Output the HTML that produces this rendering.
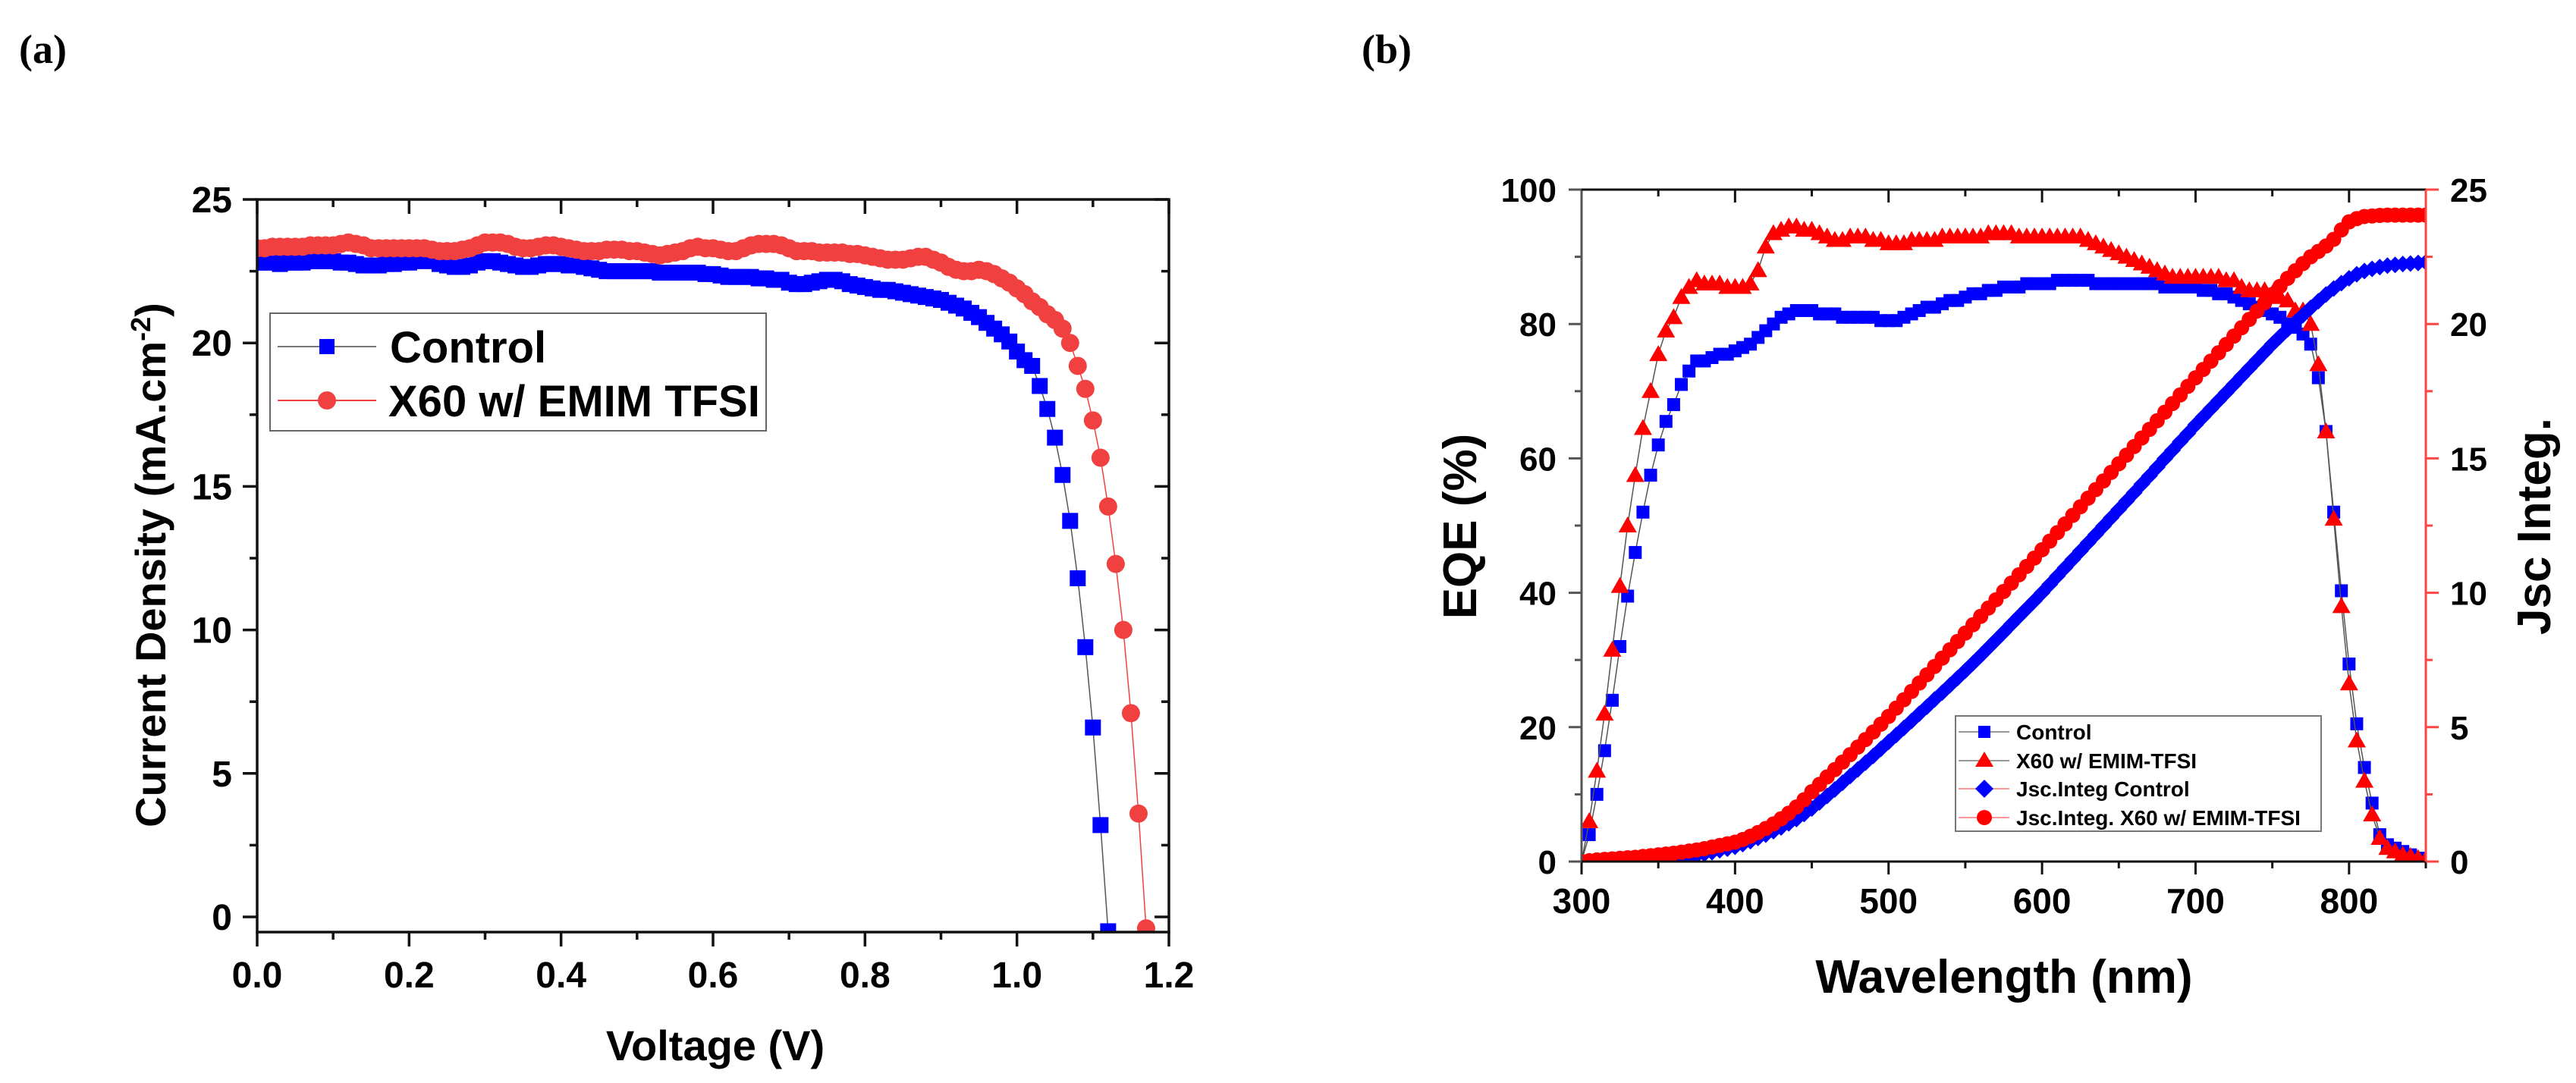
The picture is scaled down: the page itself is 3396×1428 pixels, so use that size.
<!DOCTYPE html>
<html><head><meta charset="utf-8"><style>
html,body{margin:0;padding:0;background:#fff;}
svg{display:block;font-family:"Liberation Sans",Arial,sans-serif;}
</style></head><body>
<svg id="root" width="3396" height="1428" viewBox="0 0 3396 1428" xmlns="http://www.w3.org/2000/svg">
<defs>
<clipPath id="clipA"><rect x="339" y="263" width="1202" height="966"/></clipPath>
<clipPath id="clipB"><rect x="2085" y="250" width="1113" height="886"/></clipPath>
</defs>
<text x="25" y="83" font-family="Liberation Serif, serif" font-weight="bold" font-size="54">(a)</text>
<text x="1795" y="83" font-family="Liberation Serif, serif" font-weight="bold" font-size="54">(b)</text>
<g id="gA"></g>
<g id="gB"></g>
</svg>
<script>
// ---- Panel (a) data ----
const voltStep = 0.01;
const controlJ = [22.8,22.8,22.8,22.75,22.8,22.8,22.8,22.85,22.85,22.85,
22.85,22.8,22.8,22.75,22.7,22.7,22.7,22.75,22.75,22.8,
22.8,22.85,22.9,22.85,22.75,22.7,22.65,22.65,22.7,22.8,
22.85,22.85,22.8,22.75,22.7,22.65,22.65,22.7,22.75,22.75,
22.75,22.7,22.7,22.65,22.6,22.55,22.5,22.5,22.5,22.5,
22.5,22.5,22.5,22.45,22.45,22.45,22.45,22.45,22.45,22.4,
22.4,22.35,22.3,22.3,22.3,22.3,22.25,22.25,22.2,22.2,
22.1,22.05,22.05,22.1,22.15,22.2,22.2,22.15,22.05,22.0,
21.95,21.9,21.85,21.85,21.8,21.75,21.7,21.65,21.6,21.55,
21.5,21.4,21.3,21.2,21.05,20.9,20.7,20.5,20.3,20.05,
19.7,19.4,19.2,18.5,17.7,16.7,15.4,13.8,11.8,9.4,6.6,3.2,-0.5];
const x60J = [23.3,23.3,23.35,23.35,23.35,23.35,23.35,23.4,23.4,23.4,
23.4,23.45,23.5,23.45,23.4,23.3,23.3,23.3,23.3,23.3,
23.3,23.3,23.3,23.25,23.2,23.2,23.2,23.25,23.3,23.4,
23.5,23.5,23.5,23.45,23.35,23.3,23.3,23.35,23.4,23.4,
23.35,23.3,23.25,23.2,23.2,23.2,23.25,23.25,23.25,23.2,
23.2,23.15,23.1,23.05,23.1,23.15,23.2,23.3,23.35,23.3,
23.3,23.25,23.2,23.2,23.3,23.4,23.45,23.45,23.45,23.4,
23.3,23.2,23.2,23.2,23.15,23.15,23.15,23.15,23.1,23.1,
23.05,23.0,22.95,22.9,22.9,22.9,22.95,23.0,23.0,22.9,
22.8,22.65,22.55,22.5,22.5,22.55,22.5,22.4,22.25,22.1,
21.9,21.7,21.45,21.25,21.0,20.8,20.5,20.0,19.2,18.4,
17.3,16.0,14.3,12.3,10.0,7.1,3.6,-0.4];
const aXTicks = [0.0,0.2,0.4,0.6,0.8,1.0,1.2];
const aXTickLabels = ["0.0","0.2","0.4","0.6","0.8","1.0","1.2"];
const aYTicks = [0,5,10,15,20,25];

// ---- Panel (b) data ----
const wlStart = 300, wlStep = 5;
const eqeControl = [0,4,10,16.5,24,32,39.5,46,52,57.5,
62,65.5,68,71,73,74.5,74.5,75,75.5,75.5,
76,76.5,77,78,79,80,81,81.5,82,82,
82,81.5,81.5,81.5,81,81,81,81,81,80.5,
80.5,80.5,81,81.5,82,82.5,82.5,83,83.5,83.5,
84,84.5,84.5,85,85,85.5,85.5,85.5,86,86,
86,86,86.5,86.5,86.5,86.5,86.5,86,86,86,
86,86,86,86,86,86,85.5,85.5,85.5,85.5,
85.5,85,85,84.5,84.5,84,83.5,83,82.5,82,
81.5,81,80,79.5,78.5,77,72,64,52,40.3,
29.4,20.5,14,8.7,4,2.5,2,1.5,1,0.5,0.2];
const eqeX60 = [0,6,13.5,22,31.5,41,50,57.5,64.5,70,
75.5,79,81,84,85.5,86.5,86,86,86,85.5,
85.5,85.5,86,88,91.5,93.5,94,94.5,94.5,94,
94,93.5,93,92.5,92.5,93,93,93,92.5,92.5,
92,92,92,92.5,92.5,92.5,92.5,93,93,93,
93,93,93,93.5,93.5,93.5,93.5,93,93,93,
93,93,93,93,93,93,92.5,92,91.5,91,
90.5,90,89.5,89,88.5,88,87.5,87,87,87,
87,87,87,87,86.5,86.5,85.5,85,85,85,
84.5,84,83.5,82,82,80,74,64,51,38,
26.5,18,12,7,3.5,2,1.5,1,0.8,0.5,0.3];
const jscControl = [0,0.01,0.02,0.03,0.04,0.05,0.06,0.07,0.08,0.09,
0.1,0.11,0.12,0.14,0.18,0.23,0.29,0.35,0.42,0.48,
0.55,0.65,0.76,0.88,1.0,1.13,1.27,1.42,1.58,1.77,
1.97,2.2,2.44,2.68,2.93,3.18,3.43,3.68,3.93,4.19,
4.45,4.71,4.97,5.23,5.5,5.76,6.03,6.29,6.56,6.83,
7.1,7.38,7.66,7.95,8.24,8.53,8.83,9.12,9.41,9.7,
10.0,10.31,10.62,10.93,11.24,11.55,11.86,12.17,12.48,12.79,
13.1,13.41,13.72,14.04,14.35,14.67,14.99,15.3,15.62,15.93,
16.25,16.55,16.85,17.15,17.45,17.75,18.05,18.35,18.65,18.95,
19.25,19.53,19.8,20.07,20.33,20.6,20.85,21.1,21.32,21.52,
21.7,21.85,21.97,22.05,22.12,22.17,22.2,22.23,22.25,22.27,22.3];
const jscX60 = [0,0.03,0.06,0.08,0.1,0.12,0.14,0.16,0.19,0.22,
0.25,0.28,0.31,0.35,0.39,0.43,0.48,0.54,0.6,0.66,
0.72,0.82,0.94,1.08,1.23,1.4,1.59,1.8,2.03,2.3,
2.6,2.87,3.15,3.42,3.7,3.98,4.26,4.54,4.82,5.11,
5.4,5.71,6.02,6.33,6.64,6.95,7.26,7.57,7.88,8.19,
8.5,8.81,9.12,9.43,9.74,10.05,10.36,10.67,10.98,11.29,
11.6,11.92,12.24,12.56,12.88,13.2,13.52,13.84,14.16,14.48,
14.8,15.12,15.44,15.76,16.08,16.4,16.72,17.04,17.36,17.68,
18.0,18.31,18.62,18.93,19.24,19.55,19.86,20.17,20.48,20.79,
21.1,21.4,21.7,21.98,22.25,22.5,22.7,22.9,23.15,23.5,
23.8,23.92,24.0,24.02,24.04,24.05,24.05,24.05,24.05,24.05,24.05];
const bXTicks = [300,400,500,600,700,800];
const bYTicks = [0,20,40,60,80,100];
const bY2Ticks = [0,5,10,15,20,25];

const NS = "http://www.w3.org/2000/svg";
function mk(parent, tag, attrs, text){
  const e = document.createElementNS(NS, tag);
  for (const k in attrs) e.setAttribute(k, attrs[k]);
  if (text !== undefined) e.textContent = text;
  parent.appendChild(e);
  return e;
}

// ================= Panel A =================
const gA = document.getElementById('gA');
const aL=339, aR=1541, aT=263, aB=1229, aY0=1209, aY25=263;
const ax = v => aL + (v/1.2)*(aR-aL);
const ay = j => aY0 - j*(aY0-aY25)/25;
(function(){
  // ticks
  for (let i=0;i<=12;i++){
    const v=i*0.1, x=ax(v), major=(i%2===0);
    let t=mk(gA,'line',{x1:x,y1:aB,x2:x,y2:aB+(major?19:10),stroke:'#111','stroke-width':3.5});
    
    
    t=mk(gA,'line',{x1:x,y1:aT,x2:x,y2:aT+(major?19:10),stroke:'#111','stroke-width':3.5});
    
    
  }
  aXTicks.forEach((v,i)=>{
    const t=mk(gA,'text',{x:ax(v),y:1302,'text-anchor':'middle','font-size':48,'font-weight':'bold'},aXTickLabels[i]);
    
    
  });
  for (let k=0;k<=10;k++){
    const v=k*2.5, y=ay(v), major=(k%2===0);
    let t=mk(gA,'line',{x1:aL,y1:y,x2:aL-(major?19:10),y2:y,stroke:'#111','stroke-width':3.5});
    
    
    t=mk(gA,'line',{x1:aR,y1:y,x2:aR-(major?19:10),y2:y,stroke:'#111','stroke-width':3.5});
    
    
  }
  aYTicks.forEach(v=>{
    const t=mk(gA,'text',{x:306,y:ay(v)+17,'text-anchor':'end','font-size':48,'font-weight':'bold'},String(v));
    
    
  });
  // series
  const clip = mk(gA,'g',{'clip-path':'url(#clipA)'});
  
  
  const cPts = controlJ.map((j,i)=>[ax(i*voltStep),ay(j)]);
  const rPts = x60J.map((j,i)=>[ax(i*voltStep),ay(j)]);
  let l=mk(clip,'polyline',{points:cPts.map(p=>p.join(',')).join(' '),fill:'none',stroke:'#555','stroke-width':1.5});
  
  
  cPts.forEach(p=>{
    const r=mk(clip,'rect',{x:p[0]-10.5,y:p[1]-10.5,width:21,height:21,fill:'#0000ff'});
    
    
  });
  l=mk(clip,'polyline',{points:rPts.map(p=>p.join(',')).join(' '),fill:'none',stroke:'#f04040','stroke-width':1.5});
  
  
  rPts.forEach(p=>{
    const c=mk(clip,'circle',{cx:p[0],cy:p[1],r:12,fill:'#f04040'});
    
    
  });
  const fr=mk(gA,'rect',{x:aL,y:aT,width:aR-aL,height:aB-aT,fill:'none',stroke:'#111','stroke-width':3.5});
  
  
  // legend
  const lg=mk(gA,'g',{});
  
  
  mk(lg,'rect',{x:356,y:413,width:654,height:155,fill:'#fff',stroke:'#666','stroke-width':2});
  mk(lg,'line',{x1:366,y1:457,x2:496,y2:457,stroke:'#777','stroke-width':2});
  mk(lg,'rect',{x:421,y:447,width:20,height:20,fill:'#0000ff'});
  let t=mk(lg,'text',{x:514,y:478,'font-size':58,'font-weight':'bold'},'Control');
  
  
  mk(lg,'line',{x1:366,y1:528,x2:496,y2:528,stroke:'#f04040','stroke-width':2});
  mk(lg,'circle',{cx:431,cy:528,r:12,fill:'#f04040'});
  t=mk(lg,'text',{x:512,y:549,'font-size':58,'font-weight':'bold'},'X60 w/ EMIM TFSI');
  
  
  // titles
  t=mk(gA,'text',{x:943,y:1398,'text-anchor':'middle','font-size':56,'font-weight':'bold'},'Voltage (V)');
  
  
  t=mk(gA,'text',{x:0,y:0,'text-anchor':'middle','font-size':56,'font-weight':'bold',transform:'translate(218,745) rotate(-90)'});
  
  
  t.appendChild(document.createTextNode('Current Density (mA.cm'));
  mk(t,'tspan',{dy:-20,'font-size':36},'-2');
  mk(t,'tspan',{dy:20},')');
})();

// ================= Panel B =================
const gB = document.getElementById('gB');
const bL=2085, bR=3198, bT=250, bB=1136;
const bx = w => bL + (w-300)/550*(bR-bL);
const by = e => bB - e/100*(bB-bT);
const by2 = j => bB - j/25*(bB-bT);
(function(){
  for (let w=300; w<=850; w+=50){
    const x=bx(w), major=(w%100===0);
    let t=mk(gB,'line',{x1:x,y1:bB,x2:x,y2:bB+(major?17:9),stroke:'#111','stroke-width':3});
    
    
    t=mk(gB,'line',{x1:x,y1:bT,x2:x,y2:bT+(major?17:9),stroke:'#111','stroke-width':3});
    
    
  }
  bXTicks.forEach(w=>{
    const t=mk(gB,'text',{x:bx(w),y:1204,'text-anchor':'middle','font-size':46,'font-weight':'bold'},String(w));
    
    
  });
  for (let e=0;e<=100;e+=10){
    const y=by(e), major=(e%20===0);
    const t=mk(gB,'line',{x1:bL,y1:y,x2:bL-(major?17:9),y2:y,stroke:'#555','stroke-width':3});
    
    
  }
  bYTicks.forEach(e=>{
    const t=mk(gB,'text',{x:2052,y:by(e)+16,'text-anchor':'end','font-size':44,'font-weight':'bold'},String(e));
    
    
  });
  for (let k=0;k<=10;k++){
    const j=k*2.5, y=by2(j), major=(k%2===0);
    const t=mk(gB,'line',{x1:bR,y1:y,x2:bR+(major?17:9),y2:y,stroke:'#f44','stroke-width':3});
    
    
  }
  bY2Ticks.forEach(j=>{
    const t=mk(gB,'text',{x:3230,y:by2(j)+16,'text-anchor':'start','font-size':44,'font-weight':'bold'},String(j));
    
    
  });
  const clip=mk(gB,'g',{'clip-path':'url(#clipB)'});
  
  
  const wl = i => wlStart + i*wlStep;
  const p1 = eqeControl.map((e,i)=>[bx(wl(i)),by(e)]);
  const p2 = eqeX60.map((e,i)=>[bx(wl(i)),by(e)]);
  const p3 = jscControl.map((j,i)=>[bx(wl(i)),by2(j)]);
  const p4 = jscX60.map((j,i)=>[bx(wl(i)),by2(j)]);
  const pl = pts => pts.map(p=>p.join(',')).join(' ');
  let l=mk(clip,'polyline',{points:pl(p1),fill:'none',stroke:'#555','stroke-width':1.5});
  
  
  p1.forEach(p=>{
    const r=mk(clip,'rect',{x:p[0]-8.5,y:p[1]-8.5,width:17,height:17,fill:'#0000ff'});
    
    
  });
  l=mk(clip,'polyline',{points:pl(p2),fill:'none',stroke:'#555','stroke-width':1.5});
  
  
  p2.forEach(p=>{
    const r=mk(clip,'polygon',{points:`${p[0]},${p[1]-12} ${p[0]-12},${p[1]+9} ${p[0]+12},${p[1]+9}`,fill:'#ff0000'});
    
    
  });
  l=mk(clip,'polyline',{points:pl(p3),fill:'none',stroke:'#f88','stroke-width':1.5});
  
  
  p3.forEach(p=>{
    const r=mk(clip,'polygon',{points:`${p[0]},${p[1]-11} ${p[0]+11},${p[1]} ${p[0]},${p[1]+11} ${p[0]-11},${p[1]}`,fill:'#0000ff'});
    
    
  });
  l=mk(clip,'polyline',{points:pl(p4),fill:'none',stroke:'#f88','stroke-width':1.5});
  
  
  p4.forEach(p=>{
    const c=mk(clip,'circle',{cx:p[0],cy:p[1],r:10,fill:'#ff0000'});
    
    
  });
  // axes lines
  let a=mk(gB,'line',{x1:bL,y1:bT,x2:bL,y2:bB,stroke:'#555','stroke-width':3});
  
  
  a=mk(gB,'line',{x1:bL,y1:bT,x2:bR,y2:bT,stroke:'#111','stroke-width':3});
  
  
  a=mk(gB,'line',{x1:bL,y1:bB,x2:bR,y2:bB,stroke:'#111','stroke-width':3});
  
  
  a=mk(gB,'line',{x1:bR,y1:bT,x2:bR,y2:bB,stroke:'#f44','stroke-width':3});
  
  
  // legend
  const lg=mk(gB,'g',{});
  
  
  mk(lg,'rect',{x:2578,y:944,width:482,height:152,fill:'#fff',stroke:'#777','stroke-width':2});
  const rows=[975,1013,1050,1088];
  const names=['Control','X60 w/ EMIM-TFSI','Jsc.Integ Control','Jsc.Integ. X60 w/ EMIM-TFSI'];
  const lc=['#999','#999','#f99','#f99'];
  rows.forEach((yb,i)=>{
    const yc=yb-10;
    mk(lg,'line',{x1:2582,y1:yc,x2:2649,y2:yc,stroke:lc[i],'stroke-width':2});
    const mx=2616;
    if(i===0) mk(lg,'rect',{x:mx-8,y:yc-8,width:16,height:16,fill:'#0000ff'});
    if(i===1) mk(lg,'polygon',{points:`${mx},${yc-12} ${mx-12},${yc+8} ${mx+12},${yc+8}`,fill:'#ff0000'});
    if(i===2) mk(lg,'polygon',{points:`${mx},${yc-12} ${mx+12},${yc} ${mx},${yc+12} ${mx-12},${yc}`,fill:'#0000ff'});
    if(i===3) mk(lg,'circle',{cx:mx,cy:yc,r:10,fill:'#ff0000'});
    const t=mk(lg,'text',{x:2658,y:yb,'font-size':28,'font-weight':'bold'},names[i]);
    
    
  });
  let t=mk(gB,'text',{x:2642,y:1309,'text-anchor':'middle','font-size':62,'font-weight':'bold'},'Wavelength (nm)');
  
  
  t=mk(gB,'text',{x:0,y:0,'text-anchor':'middle','font-size':62,'font-weight':'bold',transform:'translate(1946,694) rotate(-90)'},'EQE (%)');
  
  
  t=mk(gB,'text',{x:0,y:0,'text-anchor':'middle','font-size':62,'font-weight':'bold',transform:'translate(3362,694) rotate(-90)'},'Jsc Integ.');
  
  
})();
</script>
</body></html>
